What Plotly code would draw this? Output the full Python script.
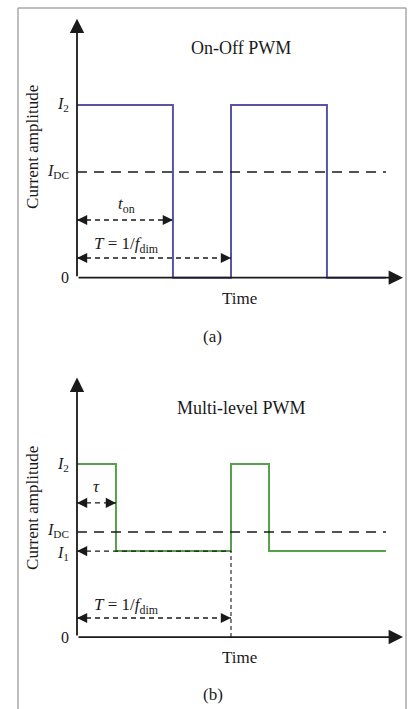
import plotly.graph_objects as go

# ---------------- data ----------------
# (a) On-Off PWM waveform (time in units of the dimming period T, current normalised to I2)
time_a = [0, 0.623, 0.623, 1.0, 1.0, 1.623, 1.623, 2.006]
current_a = [1, 1, 0, 0, 1, 1, 0, 0]
idc_a = 0.612
ton_a = 0.623

# (b) Multi-level PWM waveform
time_b = [0, 0.253, 0.253, 1.0, 1.0, 1.247, 1.247, 2.006]
current_b = [1, 1, 0.497, 0.497, 1, 1, 0.497, 0.497]
idc_b = 0.607
i1_b = 0.497
tau_b = 0.253

period = 1.0
idc_end = 2.006
xaxis_end = 2.117
yaxis_top = 1.50

ticks_a = ["<i>I</i><sub>2</sub>", "<i>I</i><sub>DC</sub>", "0"]
ticks_a_vals = [1, idc_a, 0]
ticks_b = ["<i>I</i><sub>2</sub>", "<i>I</i><sub>DC</sub>", "<i>I</i><sub>1</sub>", "0"]
ticks_b_vals = [1, idc_b, i1_b, 0]

# ---------------- style ----------------
BLUE = "#5b54a6"
GREEN = "#56a04c"
BLACK = "#1a1a1a"
FONT = "Liberation Serif"

fig = go.Figure()

def add_panel(xr, yr, t, c, col, idc):
    fig.add_trace(go.Scatter(x=t, y=c, mode="lines", line=dict(color=col, width=2),
                             xaxis=xr, yaxis=yr, hoverinfo="skip"))
    fig.add_trace(go.Scatter(x=[0, idc_end], y=[idc, idc], mode="lines",
                             line=dict(color=BLACK, width=1.6, dash="10px,7px"),
                             xaxis=xr, yaxis=yr, hoverinfo="skip"))

add_panel("x", "y", time_a, current_a, BLUE, idc_a)
add_panel("x2", "y2", time_b, current_b, GREEN, idc_b)

ann = []
shapes = []

def axes_arrows(xr, yr):
    xref, yref = xr, yr
    # y axis
    ann.append(dict(x=0, y=yaxis_top, ax=0, ay=0, xref=xref, yref=yref, axref=xref, ayref=yref,
                    showarrow=True, arrowhead=2, arrowsize=1.6, arrowwidth=1.8, arrowcolor=BLACK,
                    text="", standoff=0))
    # x axis
    ann.append(dict(x=xaxis_end, y=0, ax=0, ay=0, xref=xref, yref=yref, axref=xref, ayref=yref,
                    showarrow=True, arrowhead=2, arrowsize=1.6, arrowwidth=1.8, arrowcolor=BLACK,
                    text="", standoff=0))

def dashed_arrow(xr, yr, x0, x1, y, left=True, right=True):
    fig.add_trace(go.Scatter(x=[x0, x1], y=[y, y], mode="lines",
                             line=dict(color=BLACK, width=1.3, dash="5px,4px"),
                             xaxis=xr, yaxis=yr, hoverinfo="skip"))
    if right:
        ann.append(dict(x=x1, y=y, ax=-9, ay=0, xref=xr, yref=yr, showarrow=True,
                        arrowhead=2, arrowsize=1.7, arrowwidth=1.2, arrowcolor=BLACK, text="", standoff=0))
    if left:
        ann.append(dict(x=x0, y=y, ax=9, ay=0, xref=xr, yref=yr, showarrow=True,
                        arrowhead=2, arrowsize=1.7, arrowwidth=1.2, arrowcolor=BLACK, text="", standoff=0))

axes_arrows("x", "y")
axes_arrows("x2", "y2")

# (a) annotation arrows
dashed_arrow("x", "y", 0, ton_a, 0.334)
dashed_arrow("x", "y", 0, period, 0.114)
# (b)
dashed_arrow("x2", "y2", 0, tau_b, 0.775)
dashed_arrow("x2", "y2", 0, period, 0.110)
dashed_arrow("x2", "y2", 0, period, i1_b, left=True, right=False)
fig.add_trace(go.Scatter(x=[period, period], y=[0, i1_b], mode="lines",
                         line=dict(color=BLACK, width=1.1, dash="4px,3px"),
                         xaxis="x2", yaxis="y2", hoverinfo="skip"))

def txt(xr, yr, x, y, s, size=16, **kw):
    d = dict(x=x, y=y, xref=xr, yref=yr, text=s, showarrow=False,
             font=dict(family=FONT, size=size, color=BLACK))
    d.update(kw)
    ann.append(d)

for xr, yr, ticks, vals in [("x", "y", ticks_a, ticks_a_vals), ("x2", "y2", ticks_b, ticks_b_vals)]:
    for s, v in zip(ticks, vals):
        shift = 0
        if xr == "x2" and v == idc_b:
            shift = 2
        if xr == "x2" and v == i1_b:
            shift = -2
        txt(xr, yr, 0, v, s, size=16, xanchor="right", xshift=-6, yshift=shift)

txt("x", "y", 1.065, 1.33, "On-Off PWM", size=18)
txt("x2", "y2", 1.065, 1.324, "Multi-level PWM", size=18)
txt("x", "y", 1.058, -0.118, "Time", size=17)
txt("x2", "y2", 1.058, -0.116, "Time", size=17)
txt("x", "y", 0.883, -0.338, "(a)", size=17)
txt("x2", "y2", 0.883, -0.335, "(b)", size=17)
txt("x", "y", -0.286, 0.757, "Current amplitude", size=17, textangle=-90)
txt("x2", "y2", -0.286, 0.746, "Current amplitude", size=17, textangle=-90)
txt("x", "y", 0.32, 0.42, "<i>t</i><sub>on</sub>", size=17)
txt("x", "y", 0.32, 0.19, "<i>T</i> = 1/<i>f</i><sub>dim</sub>", size=17)
txt("x2", "y2", 0.125, 0.87, "<i>τ</i>", size=17)
txt("x2", "y2", 0.32, 0.18, "<i>T</i> = 1/<i>f</i><sub>dim</sub>", size=17)

# outer frame
BORDER = "#a8a8a8"
for (x0, y0, x1, y1) in [(18, 8, 406, 8), (18, 8, 18, 709), (406, 8, 406, 709)]:
    shapes.append(dict(type="line", xref="paper", yref="paper",
                       x0=x0 / 412, x1=x1 / 412, y0=1 - y0 / 709, y1=1 - y1 / 709,
                       line=dict(color=BORDER, width=1.5)))

ax_common = dict(visible=False, showgrid=False, zeroline=False, fixedrange=True)
fig.update_layout(
    width=412, height=709,
    margin=dict(l=0, r=0, t=0, b=0),
    paper_bgcolor="white", plot_bgcolor="white",
    showlegend=False,
    xaxis=dict(domain=[0, 1], range=[-0.5, 2.1753], anchor="y", **ax_common),
    yaxis=dict(domain=[0.5, 1], range=[-0.445, 1.608], anchor="x", **ax_common),
    xaxis2=dict(domain=[0, 1], range=[-0.5, 2.1753], anchor="y2", **ax_common),
    yaxis2=dict(domain=[0, 0.5], range=[-0.416, 1.633], anchor="x2", **ax_common),
    annotations=ann,
    shapes=shapes,
)

fig.write_html("out.html", config={"displayModeBar": False},
               post_script="document.body.style.margin='0';document.body.style.overflow='hidden';")
